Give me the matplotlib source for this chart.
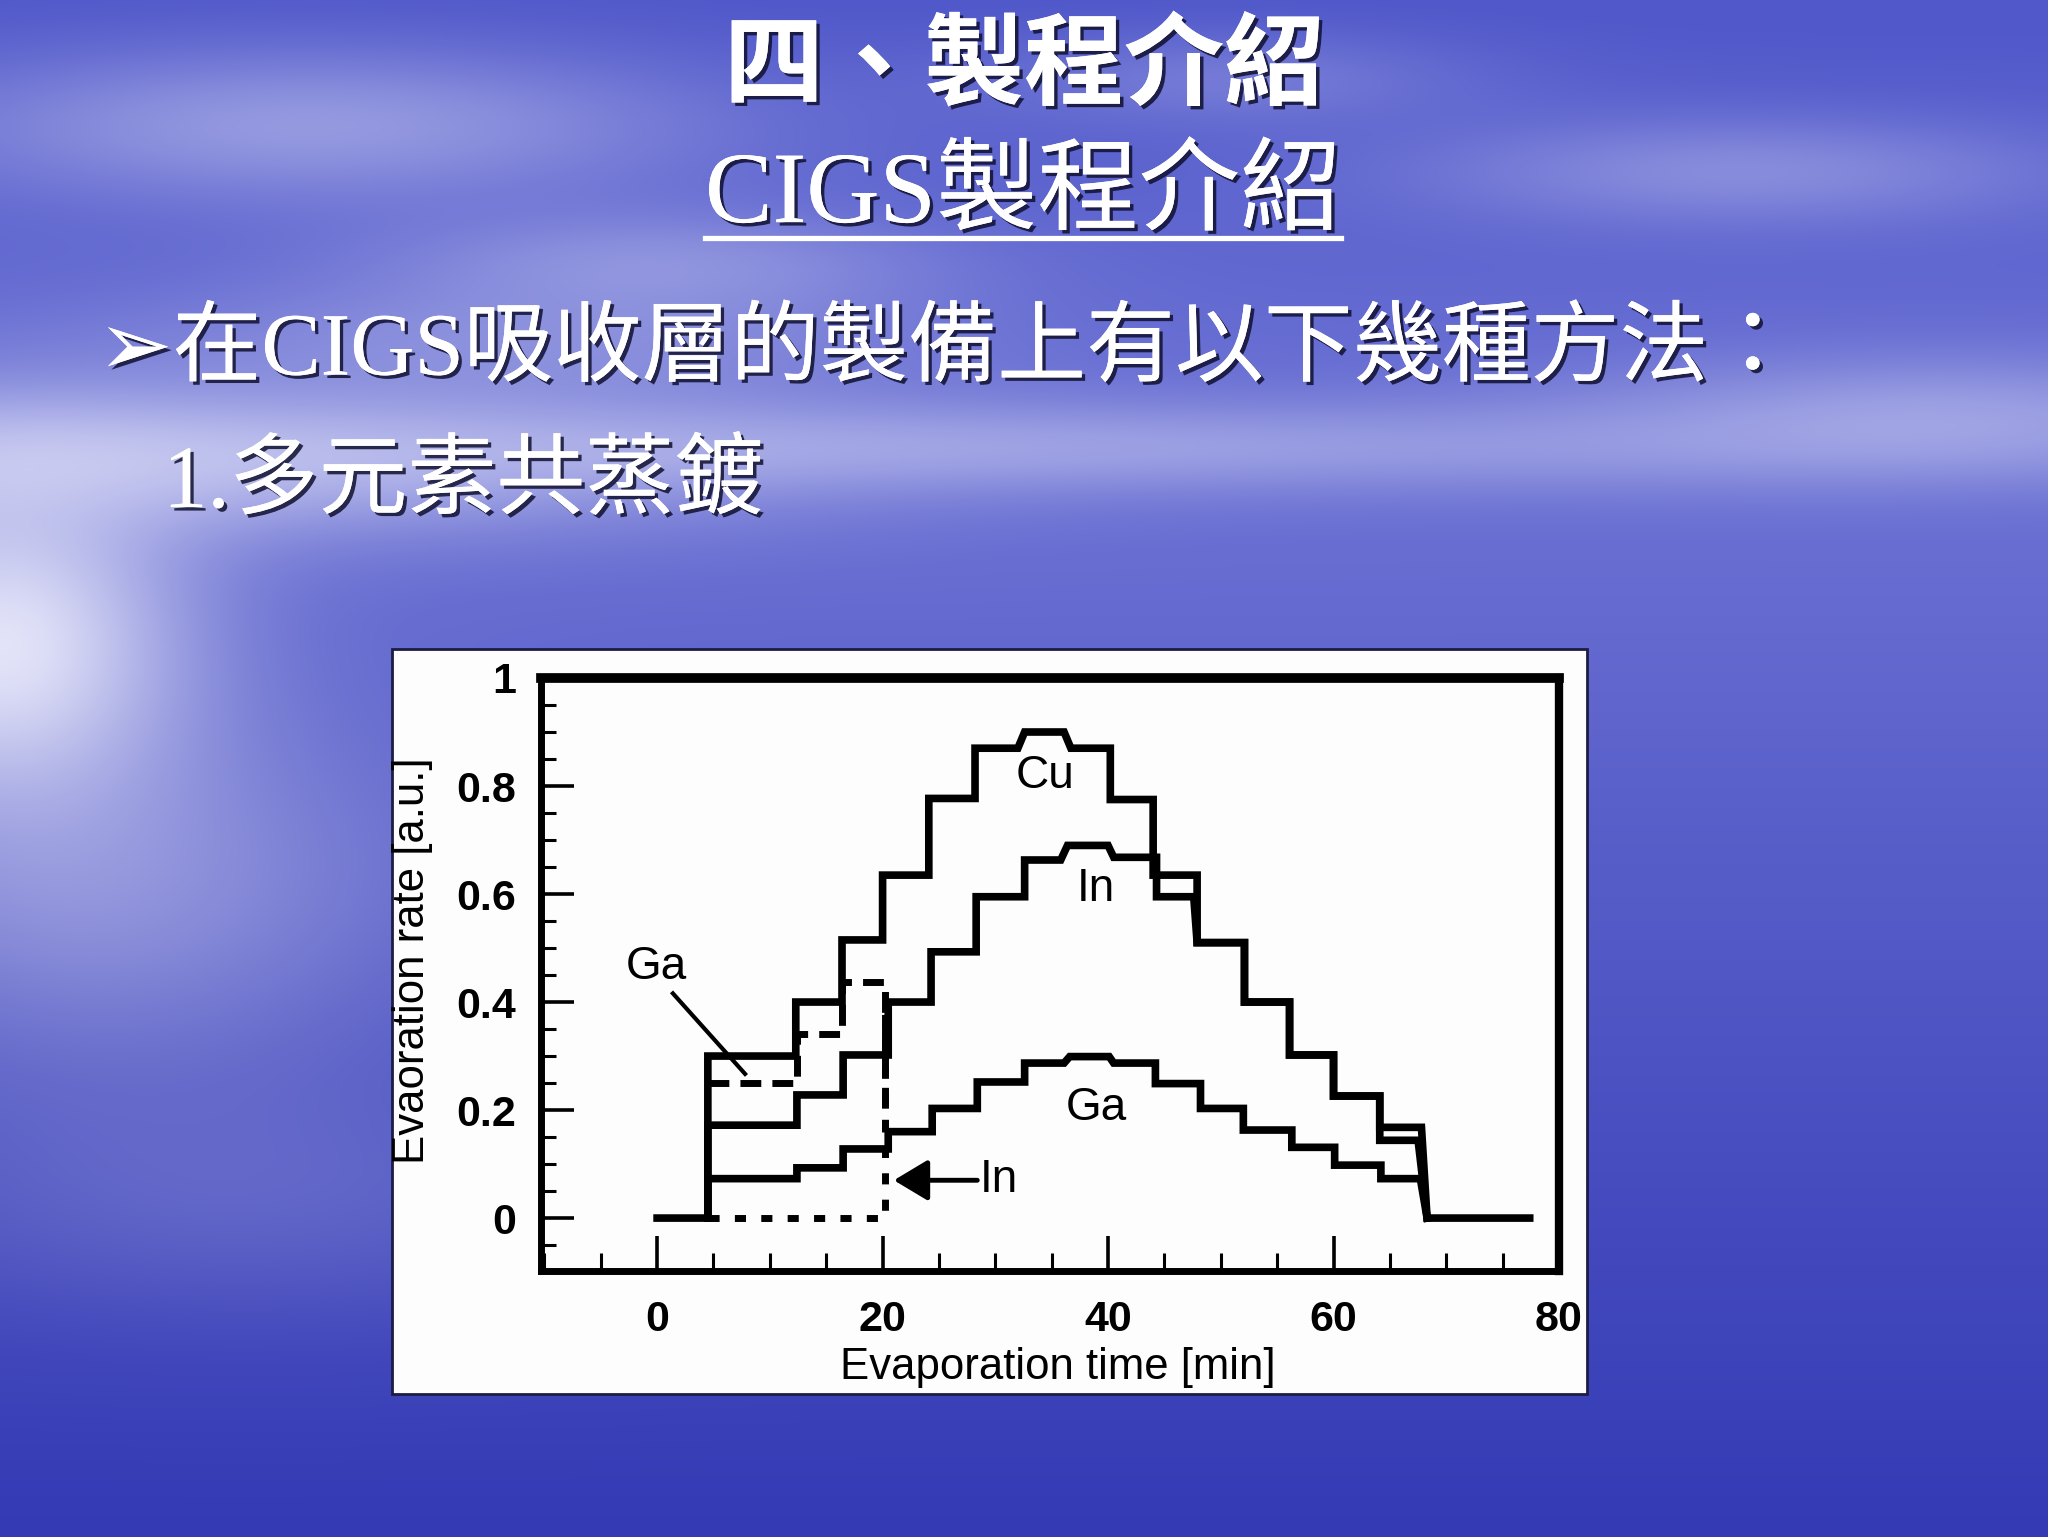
import numpy as np
import matplotlib
matplotlib.use("Agg")
import matplotlib.pyplot as plt
from matplotlib import patheffects as pe
from matplotlib.patches import Rectangle
from matplotlib.lines import Line2D
from matplotlib.ticker import MultipleLocator

# --- slide text ---
title_1 = "四、製程介紹"
title_2 = "CIGS製程介紹"
bullet = "➢在CIGS吸收層的製備上有以下幾種方法："
item_1 = "1.多元素共蒸鍍"

# --- chart data, step profiles as vertices ---
cu_t = [0, 4.5, 4.5, 12.3, 12.3, 16.4, 16.4, 20.0, 20.0, 24.1, 24.1, 28.2, 28.2, 32.0, 32.6, 36.1, 36.7,
        40.2, 40.2, 44.0, 44.0, 47.9, 47.9, 52.1, 52.1, 56.1, 56.1, 60.0, 60.0, 64.1, 64.1, 67.8, 68.3, 77.4]
cu_y = [0, 0, 0.30, 0.30, 0.40, 0.40, 0.515, 0.515, 0.635, 0.635, 0.777, 0.777, 0.87, 0.87, 0.90, 0.90, 0.87,
        0.87, 0.775, 0.775, 0.635, 0.635, 0.51, 0.51, 0.40, 0.40, 0.302, 0.302, 0.226, 0.226, 0.168, 0.168, 0.0, 0.0]

in_t = [4.5, 4.5, 12.4, 12.4, 16.5, 16.5, 20.5, 20.5, 24.3, 24.3, 28.3, 28.3, 32.6, 32.6, 35.8, 36.4,
        40.0, 40.5, 44.3, 44.3, 47.6, 47.9, 52.1, 52.1, 56.1, 56.1, 60.0, 60.0, 64.1, 64.1, 67.5, 68.3]
in_y = [0, 0.172, 0.172, 0.228, 0.228, 0.302, 0.302, 0.40, 0.40, 0.493, 0.493, 0.595, 0.595, 0.663, 0.663, 0.69,
        0.69, 0.668, 0.668, 0.595, 0.595, 0.51, 0.51, 0.40, 0.40, 0.302, 0.302, 0.226, 0.226, 0.144, 0.144, 0.0]

ga_t = [4.5, 4.5, 12.4, 12.4, 16.5, 16.5, 20.5, 20.5, 24.4, 24.4, 28.4, 28.4, 32.6, 32.6, 36.1, 36.6,
        40.1, 40.5, 44.2, 44.2, 48.2, 48.2, 52.0, 52.0, 56.3, 56.3, 60.1, 60.1, 64.2, 64.2, 67.7, 68.3]
ga_y = [0, 0.073, 0.073, 0.093, 0.093, 0.128, 0.128, 0.16, 0.16, 0.203, 0.203, 0.252, 0.252, 0.287, 0.287, 0.299,
        0.299, 0.287, 0.287, 0.249, 0.249, 0.203, 0.203, 0.163, 0.163, 0.131, 0.131, 0.098, 0.098, 0.073, 0.073, 0.0]

# alternative first stage (dashed Ga, dotted In)
ga_early_t = [4.5, 12.4, 12.4, 16.4, 16.4, 20.2, 20.2]
ga_early_y = [0.25, 0.25, 0.34, 0.34, 0.438, 0.438, 0.16]
in_early_t = [4.5, 20.2, 20.2]
in_early_y = [0, 0, 0.40]

x_ticks = [0, 20, 40, 60, 80]
y_ticks = [0, 0.2, 0.4, 0.6, 0.8, 1]
y_tick_labels = ["0", "0.2", "0.4", "0.6", "0.8", "1"]

W, H = 2048, 1537
fig = plt.figure(figsize=(W / 100, H / 100), dpi=100)


def sky(h=310, w=410):
    yy, xx = np.mgrid[0:1:h * 1j, 0:1:w * 1j]
    top = np.array([80, 88, 202]) / 255
    mid = np.array([108, 114, 212]) / 255
    low = np.array([52, 58, 180]) / 255
    s1 = np.clip(yy / 0.3, 0, 1)[..., None]
    s2 = np.clip((yy - 0.3) / 0.7, 0, 1)[..., None]
    img = np.where(yy[..., None] < 0.3, top * (1 - s1) + mid * s1, mid * (1 - s2) + low * s2)
    light = np.array([0.94, 0.94, 0.99])
    blobs = [(0.0, 0.42, 0.09, 0.11, 0.9), (0.05, 0.30, 0.3, 0.05, 0.55), (0.5, 0.29, 0.45, 0.03, 0.35),
             (0.95, 0.27, 0.18, 0.04, 0.35), (0.15, 0.08, 0.2, 0.05, 0.4), (0.32, 0.17, 0.14, 0.035, 0.3),
             (0.85, 0.11, 0.16, 0.035, 0.3), (0.6, 0.05, 0.12, 0.03, 0.2), (0.05, 0.58, 0.16, 0.12, 0.35),
             (0.12, 0.78, 0.2, 0.08, 0.15), (0.25, 0.22, 0.2, 0.04, 0.25)]
    for cx, cy, sx, sy, a in blobs:
        g = a * np.exp(-((xx - cx) / sx) ** 2 - ((yy - cy) / sy) ** 2)
        img = img * (1 - g[..., None]) + light * g[..., None]
    return np.clip(img, 0, 1)


bg = fig.add_axes([0, 0, 1, 1], zorder=-5)
bg.imshow(sky(), aspect="auto", extent=[0, 1, 0, 1], interpolation="bicubic")
bg.set_axis_off()

# white picture of the scanned chart
fig.add_artist(Rectangle((392 / W, 1 - 1394 / H), 1195 / W, 745 / H, transform=fig.transFigure,
                         facecolor="#fdfdfd", edgecolor="#1c1c44", lw=2, zorder=-2))

ax = fig.add_axes([541 / W, 1 - 1271 / H, 1018 / W, 593 / H], zorder=0)
ax.set_facecolor("#fdfdfd")
lw = 5.5
ax.plot(cu_t, cu_y, color="black", lw=lw, solid_joinstyle="miter")
ax.plot(in_t, in_y, color="black", lw=lw, solid_joinstyle="miter")
ax.plot(ga_t, ga_y, color="black", lw=lw, solid_joinstyle="miter")
ax.plot(ga_early_t, ga_early_y, color="black", lw=5, linestyle=(0, (3, 1.6)))
ax.plot(in_early_t, in_early_y, color="black", lw=5, linestyle=(0, (1.6, 2.2)))

lab = dict(family="Liberation Sans", fontsize=33, ha="center", va="center")
ax.text(34.4, 0.818, "Cu", **lab)
ax.text(38.9, 0.609, "In", **lab)
ax.text(39.0, 0.203, "Ga", **lab)
ax.text(-0.1, 0.465, "Ga", **lab)
ax.plot([1.4, 7.8], [0.416, 0.267], color="black", lw=3)
ax.annotate("", xy=(21.0, 0.07), xytext=(28.4, 0.07),
            arrowprops=dict(arrowstyle="-|>,head_length=0.5,head_width=0.3", lw=3.5,
                            color="black", mutation_scale=42, shrinkA=0, shrinkB=0))
ax.text(30.3, 0.071, "In", **lab)

ax.set_xlim(-10.3, 80)
ax.set_ylim(-0.098, 1.0)
ax.set_xticks(x_ticks)
ax.set_yticks(y_ticks)
ax.set_yticklabels(y_tick_labels)
ax.xaxis.set_minor_locator(MultipleLocator(5))
ax.yaxis.set_minor_locator(MultipleLocator(0.05))
ax.tick_params(which="both", direction="in", top=False, right=False, colors="black")
ax.tick_params(axis="x", which="major", length=25, width=2.6, pad=21, labelsize=31)
ax.tick_params(axis="x", which="minor", length=13, width=2.2)
ax.tick_params(axis="y", which="major", length=24, width=2.6, pad=18, labelsize=31)
ax.tick_params(axis="y", which="minor", length=11, width=2.2)
for t in ax.get_xticklabels() + ax.get_yticklabels():
    t.set_family("Liberation Sans")
    t.set_fontweight("bold")
ax.spines["left"].set_linewidth(5)
ax.spines["bottom"].set_linewidth(5)
ax.spines["top"].set_linewidth(7)
ax.spines["right"].set_linewidth(6)

ax.set_xlabel("Evaporation time [min]", family="Liberation Sans", fontsize=31.5, va="center")
ax.xaxis.set_label_coords(0.508, -0.162)
ax.set_ylabel("Evaoration rate [a.u.]", family="Liberation Sans", fontsize=31.5, va="center")
ax.yaxis.set_label_coords(-0.126, 0.523)

# slide text
fam = ["Liberation Serif", "Noto Sans CJK TC", "DejaVu Sans"]
shadow = [pe.withSimplePatchShadow(offset=(2.5, -2.5), shadow_rgbFace="#101030", alpha=0.85), pe.Normal()]
fig.text(1024 / W, 1 - 70 / H, title_1, family=fam, fontsize=72, fontweight="bold", color="white",
         ha="center", va="center", path_effects=shadow)
t2 = fig.text(1023 / W, 1 - 197 / H, title_2, family=fam, fontsize=73, color="white",
              ha="center", va="center", path_effects=shadow)
fig.text(98 / W, 1 - 352 / H, bullet, family=fam, fontsize=64, color="white",
         ha="left", va="center", path_effects=shadow)
fig.text(163 / W, 1 - 484 / H, item_1, family=fam, fontsize=64, color="white",
         ha="left", va="center", path_effects=shadow)

# underline the second title line
bb = t2.get_window_extent(renderer=fig.canvas.get_renderer())
fig.add_artist(Line2D([bb.x0 / W, bb.x1 / W], [1 - 238 / H] * 2, transform=fig.transFigure,
                      color="white", lw=3.8))

fig.savefig("out.png", dpi=100)
